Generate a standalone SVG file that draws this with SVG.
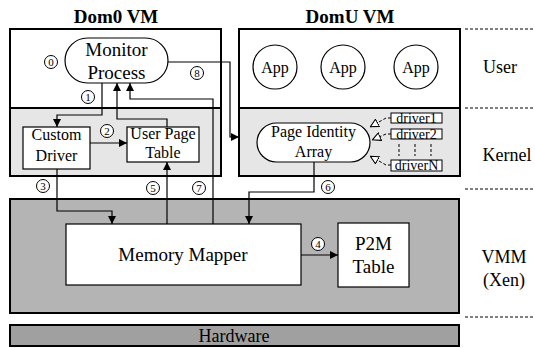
<svg xmlns="http://www.w3.org/2000/svg" width="535" height="348" viewBox="0 0 535 348" font-family="'Liberation Serif', 'DejaVu Serif', 'Times New Roman', serif">
  <style>
    text { font-family: 'Liberation Serif', 'DejaVu Serif', 'Times New Roman', serif; fill: #000; text-anchor: middle; }
    .title { font-size: 19px; font-weight: bold; }
    .big { font-size: 19px; }
    .mid { font-size: 16px; }
    .side { font-size: 18px; }
    .small { font-size: 14px; }
    .num { font-size: 11px; }
    .frame { stroke: #000; stroke-width: 2; }
    .box { fill: #fff; stroke: #000; stroke-width: 1.2; }
    .wire { fill: none; stroke: #000; stroke-width: 1.2; }
    .dash { fill: none; stroke: #000; stroke-width: 1.2; stroke-dasharray: 3 2; }
    .tag { fill: #fff; stroke: #000; stroke-width: 1; }
    .drv { fill: none; stroke: #000; stroke-width: 1; stroke-dasharray: 3 2; }
  </style>
  <defs>
    <marker id="arr" viewBox="0 0 10 10" refX="10" refY="5" markerWidth="8" markerHeight="8" markerUnits="userSpaceOnUse" orient="auto">
      <path d="M0,0 L10,5 L0,10 Z" fill="#000"/>
    </marker>
    <marker id="hollow" viewBox="0 0 10 10" refX="10" refY="5" markerWidth="9" markerHeight="9" markerUnits="userSpaceOnUse" orient="auto">
      <path d="M0.5,0.5 L9.5,5 L0.5,9.5 Z" fill="#fff" stroke="#000" stroke-width="1.2"/>
    </marker>
  </defs>

  <!-- layer separators on the right -->
  <g id="layer-lines">
    <line class="dash" x1="465" y1="29" x2="535" y2="29"/>
    <line class="dash" x1="465" y1="108" x2="535" y2="108"/>
    <line class="dash" x1="465" y1="189" x2="535" y2="189"/>
    <line class="dash" x1="465" y1="317" x2="535" y2="317"/>
    <text class="side" x="500" y="73">User</text>
    <text class="side" x="507" y="161">Kernel</text>
    <text class="side" x="504" y="263">VMM</text>
    <text class="side" x="504" y="286">(Xen)</text>
  </g>

  <!-- Dom0 VM -->
  <g id="dom0">
    <text class="title" x="116" y="23">Dom0 VM</text>
    <rect x="10" y="108" width="211" height="68" fill="#e6e6e6"/>
    <rect class="frame" x="10" y="29" width="211" height="147" fill="none"/>
    <line class="frame" x1="10" y1="108" x2="221" y2="108"/>
  </g>
  <g id="monitor-process">
    <rect class="box" x="65" y="38" width="103" height="45" rx="22.5" ry="22.5"/>
    <text class="big" x="116.5" y="56">Monitor</text>
    <text class="big" x="116.5" y="79">Process</text>
  </g>
  <g id="custom-driver">
    <rect class="box" x="23" y="127" width="67" height="42"/>
    <text class="mid" x="56.5" y="140">Custom</text>
    <text class="mid" x="56.5" y="161">Driver</text>
  </g>
  <g id="user-page-table">
    <rect class="box" x="127" y="127" width="72" height="35"/>
    <text class="mid" x="163" y="139">User Page</text>
    <text class="mid" x="163" y="158">Table</text>
  </g>

  <!-- DomU VM -->
  <g id="domu">
    <text class="title" x="350" y="23">DomU VM</text>
    <rect x="239" y="108" width="221" height="68" fill="#e6e6e6"/>
    <rect class="frame" x="239" y="29" width="221" height="147" fill="none"/>
    <line class="frame" x1="239" y1="108" x2="460" y2="108"/>
  </g>
  <g id="app1">
    <circle class="box" cx="275" cy="67" r="22"/>
    <text class="mid" x="275" y="73">App</text>
  </g>
  <g id="app2">
    <circle class="box" cx="343" cy="67" r="22"/>
    <text class="mid" x="343" y="73">App</text>
  </g>
  <g id="app3">
    <circle class="box" cx="416" cy="67" r="22"/>
    <text class="mid" x="416" y="73">App</text>
  </g>
  <g id="page-identity-array">
    <rect class="box" x="257" y="123" width="113" height="39" rx="19.5" ry="19.5"/>
    <text class="mid" x="313.5" y="137">Page Identity</text>
    <text class="mid" x="313.5" y="157">Array</text>
  </g>
  <g id="driver1">
    <rect class="tag" x="391" y="113" width="51" height="10"/>
    <text class="small" x="416.5" y="122.5">driver1</text>
  </g>
  <g id="driver2">
    <rect class="tag" x="391" y="129" width="51" height="10"/>
    <text class="small" x="416.5" y="138.5">driver2</text>
  </g>
  <g id="driverN">
    <rect class="tag" x="391" y="160" width="51" height="11"/>
    <text class="small" x="416.5" y="170">driverN</text>
  </g>
  <g id="driver-ellipsis">
    <line class="drv" x1="399" y1="144" x2="399" y2="156" stroke-dasharray="2 2"/>
    <line class="drv" x1="415" y1="144" x2="415" y2="156" stroke-dasharray="2 2"/>
    <line class="drv" x1="431" y1="144" x2="431" y2="156" stroke-dasharray="2 2"/>
  </g>

  <!-- VMM and hardware -->
  <g id="vmm">
    <rect class="frame" x="10" y="199" width="449" height="114" fill="#b4b4b4"/>
  </g>
  <g id="memory-mapper">
    <rect class="box" x="66" y="224" width="235" height="61"/>
    <text class="big" x="183" y="261">Memory Mapper</text>
  </g>
  <g id="p2m-table">
    <rect class="box" x="338" y="223" width="71" height="64"/>
    <text class="big" x="373.5" y="250">P2M</text>
    <text class="big" x="373.5" y="273">Table</text>
  </g>
  <g id="hardware">
    <rect class="frame" x="10" y="325" width="449" height="21" fill="#a0a0a0"/>
    <text class="side" x="234" y="342">Hardware</text>
  </g>

  <!-- connectors -->
  <g id="connectors">
    <polyline class="wire" points="102,83 102,115 57,115 57,127" marker-end="url(#arr)"/>
    <line class="wire" x1="90" y1="143" x2="127" y2="143" marker-end="url(#arr)"/>
    <polyline class="wire" points="167,127 167,119 117,119 117,83" marker-end="url(#arr)"/>
    <polyline class="wire" points="213,224 213,99 130,99 130,83" marker-end="url(#arr)"/>
    <line class="wire" x1="167" y1="224" x2="167" y2="162" marker-end="url(#arr)"/>
    <polyline class="wire" points="57,169 57,211 112,211 112,224" marker-end="url(#arr)"/>
    <polyline class="wire" points="314,162 314,192 249,192 249,224" marker-end="url(#arr)"/>
    <line class="wire" x1="301" y1="255" x2="338" y2="255" marker-end="url(#arr)"/>
    <polyline class="wire" points="168,62 230,62 230,137 239,137" marker-end="url(#arr)"/>
    <polyline class="drv" points="391,118 386,118 370,127" marker-end="url(#hollow)"/>
    <polyline class="drv" points="391,134 386,134 372,140" marker-end="url(#hollow)"/>
    <polyline class="drv" points="391,165 386,165 370,156" marker-end="url(#hollow)"/>
  </g>

  <!-- step numbers -->
  <g id="steps">
    <circle class="tag" cx="51" cy="62" r="6.5"/><text class="num" x="51" y="66">0</text>
    <circle class="tag" cx="88" cy="97" r="6.5"/><text class="num" x="88" y="101">1</text>
    <circle class="tag" cx="107" cy="131" r="6.5"/><text class="num" x="107" y="135">2</text>
    <circle class="tag" cx="43" cy="186" r="6.5"/><text class="num" x="43" y="190">3</text>
    <circle class="tag" cx="318" cy="244" r="6.5"/><text class="num" x="318" y="248">4</text>
    <circle class="tag" cx="153" cy="188" r="6.5"/><text class="num" x="153" y="192">5</text>
    <circle class="tag" cx="328" cy="187" r="6.5"/><text class="num" x="328" y="191">6</text>
    <circle class="tag" cx="199" cy="188" r="6.5"/><text class="num" x="199" y="192">7</text>
    <circle class="tag" cx="197" cy="73" r="6.5"/><text class="num" x="197" y="77">8</text>
  </g>
</svg>
